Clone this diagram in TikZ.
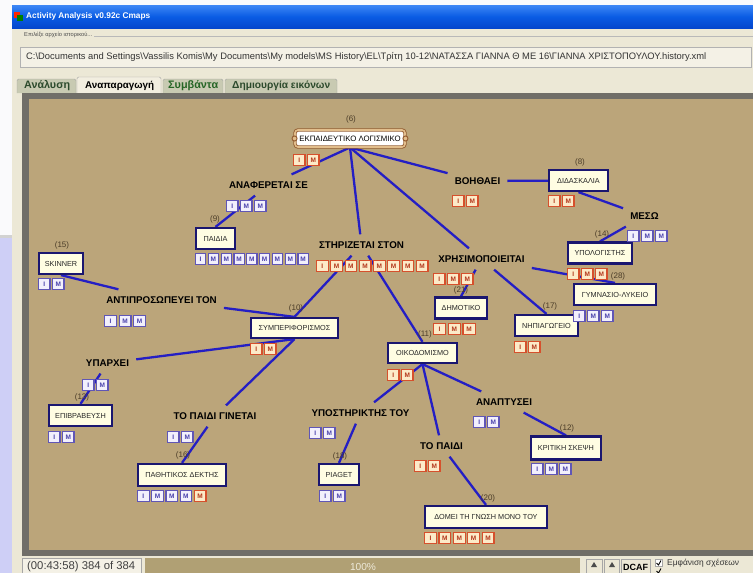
\documentclass[tikz,border=0pt]{standalone}
\usepackage{fontspec}
\setmainfont{Liberation Sans}

\pgfdeclarelayer{back}
\pgfdeclarelayer{wires}
\pgfsetlayers{back,wires,main}

% window chrome
\definecolor{screenbg}{RGB}{250,250,252}
\definecolor{lavender}{RGB}{206,207,246}
\definecolor{chrome}{RGB}{236,232,214}
\definecolor{fieldbg}{RGB}{244,241,230}
\definecolor{tbtop}{RGB}{62,135,245}
\definecolor{tbmid}{RGB}{10,92,228}
\definecolor{tbbot}{RGB}{4,70,205}
\definecolor{tabgrey}{RGB}{200,202,178}
\definecolor{tabsel}{RGB}{242,238,224}
\definecolor{tabtxt}{RGB}{44,74,44}
\definecolor{frame}{RGB}{112,110,104}
\definecolor{progress}{RGB}{176,160,116}
% concept map
\definecolor{canvas}{RGB}{187,165,122}
\definecolor{navy}{RGB}{26,22,112}
\definecolor{cream}{RGB}{255,253,226}
\definecolor{wire}{RGB}{36,30,196}
\definecolor{redb}{RGB}{214,80,44}
\definecolor{redfill}{RGB}{252,234,200}
\definecolor{redtxt}{RGB}{178,54,26}
\definecolor{blueb}{RGB}{96,86,182}
\definecolor{bluefill}{RGB}{242,240,252}
\definecolor{bluetxt}{RGB}{72,64,172}
\definecolor{numtxt}{RGB}{74,60,40}
\definecolor{scrolldark}{RGB}{150,96,52}
\definecolor{scrolllight}{RGB}{226,190,140}

% a row of I/M marks: name, left x, top y, pitch, list of letter/colour
\newcommand{\imrow}[5]{%
  \foreach \L/\C [count=\k from 0] in {#5}{%
    \node[badge\C, minimum width={#4pt-2.6pt}, anchor=north west]
      (#1-\k) at ({#2+\k*#4},#3) {\L};
  }}
\newcommand{\fitw}[2]{\resizebox{#1}{!}{#2}}

\begin{document}
\begin{tikzpicture}[x=1pt,y=-1pt,
  concept/.style={draw=navy, line width=2.2pt, fill=cream, inner sep=1pt,
    text=black!85, font=\fontsize{7.3}{8}\selectfont},
  linkph/.style={font=\bfseries\fontsize{9.8}{10}\selectfont,
    inner xsep=7pt, inner ysep=7pt, text=black},
  numlab/.style={font=\fontsize{8}{9}\selectfont, text=numtxt, inner sep=0pt},
  badger/.style={draw=redb, fill=redfill, text=redtxt, line width=1.1pt,
    minimum height=11pt, inner sep=0pt, font=\bfseries\fontsize{6.5}{7}\selectfont},
  badgeb/.style={draw=blueb, fill=bluefill, text=bluetxt, line width=1.1pt,
    minimum height=11pt, inner sep=0pt, font=\bfseries\fontsize{6.5}{7}\selectfont},
  wirestyle/.style={draw=wire, line width=2.3pt},
  tabbox/.style={draw=gray!70, fill=tabgrey, rounded corners=1.5pt},
  chrometext/.style={inner sep=0pt, anchor=west}
]
\useasboundingbox (0,0) rectangle (753,573);

% ---------------- window ----------------
\begin{pgfonlayer}{back}
  \fill[screenbg] (0,0) rectangle (753,573);
  \fill[lavender] (0,238) rectangle (14,573);
  \fill[gray!35] (0,235) rectangle (14,238);
  \fill[chrome] (12,5) rectangle (753,573);
  \shade[top color=tbtop, bottom color=tbbot, middle color=tbmid] (12,5) rectangle (753,28);
  % file chooser
  \draw[gray!55] (94,36) -- (753,36);
  \draw[gray!60, fill=fieldbg] (20,47) rectangle (751,67);
  % tabs
  \draw[tabbox] (17,93) -- (17,79) -- (76,79) -- (76,93);
  \draw[tabbox, fill=tabsel] (77,93) -- (77,77) -- (161,77) -- (161,93);
  \draw[tabbox] (163,93) -- (163,79) -- (223,79) -- (223,93);
  \draw[tabbox] (225,93) -- (225,79) -- (337,79) -- (337,93);
  % drawing area
  \fill[frame] (22,93) rectangle (753,556);
  \fill[canvas] (29,99) rectangle (753,550);
  % status bar
  \draw[gray!70, fill=fieldbg] (22,558) rectangle (141,575);
  \fill[progress] (145,558) rectangle (580,575);
  \draw[gray!70, fill=chrome] (586,559) rectangle (602,575);
  \draw[gray!70, fill=chrome] (604,559) rectangle (619,575);
  \draw[gray!70, fill=chrome] (621,559) rectangle (650,575);
  \fill[black!70] (591,567) -- (597,567) -- (594,562) -- cycle;
  \fill[black!70] (609,567) -- (615,567) -- (612,562) -- cycle;
  \draw[gray!70, fill=white] (655,559.5) rectangle (662,566.5);
  \draw[black, line width=0.9pt] (656.5,563) -- (658.5,565) -- (661,560.5);
  \draw[black, line width=0.9pt] (656.5,571) -- (658.5,573) -- (661,568.5);
\end{pgfonlayer}

% window texts
\fill[red!70!orange] (14,12) rectangle (20,18);
\fill[green!50!black] (17,15) rectangle (23,21);
\node[chrometext, text=white, font=\bfseries] (title) at (26,16.5)
  {\fitw{124pt}{Activity Analysis v0.92c Cmaps}};
\node[chrometext, text=black!70] (pick) at (24,35)
  {\fitw{68pt}{Επιλέξε αρχείο ιστορικού...}};
\node[chrometext, text=black!80] (path) at (26,57)
  {\fitw{680pt}{C:\textbackslash Documents and Settings\textbackslash Vassilis Komis\textbackslash My Documents\textbackslash My models\textbackslash MS History\textbackslash EL\textbackslash Τρίτη 10-12\textbackslash ΝΑΤΑΣΣΑ ΓΙΑΝΝΑ Θ ΜΕ 16\textbackslash ΓΙΑΝΝΑ ΧΡΙΣΤΟΠΟΥΛΟΥ.history.xml}};
\node[chrometext, text=tabtxt] (tab1) at (24,86) {\fitw{46pt}{\bfseries Ανάλυση}};
\node[chrometext, text=black] (tab2) at (85,86) {\fitw{69pt}{\bfseries Αναπαραγωγή}};
\node[chrometext, text=tabtxt!85!green] (tab3) at (168,86) {\fitw{50pt}{\bfseries Συμβάντα}};
\node[chrometext, text=tabtxt] (tab4) at (232,86) {\fitw{98pt}{\bfseries Δημιουργία εικόνων}};
\node[chrometext, text=black!75] (clock) at (27,567) {\fitw{108pt}{(00:43:58) 384 of 384}};
\node[text=chrome!90, inner sep=0pt] (pct) at (363,567) {\fitw{26pt}{100\%}};
\node[text=black, inner sep=0pt] (dcaf) at (635.5,567) {\fitw{25pt}{\bfseries DCAF}};
\node[chrometext, text=black!80] (showrel) at (667,563) {\fitw{72pt}{Εμφάνιση σχέσεων}};

% ---------------- concepts ----------------
\node[draw=scrolldark, double=scrolllight, double distance=1.6pt, line width=0.9pt,
  fill=white, rounded corners=3pt, minimum width=110pt, minimum height=17pt,
  inner sep=1pt, font=\fontsize{7.8}{8}\selectfont] (soft) at (350,138.5)
  {ΕΚΠΑΙΔΕΥΤΙΚΟ ΛΟΓΙΣΜΙΚΟ};
\draw[scrolldark, line width=1pt, fill=scrolllight] (soft.west) circle (2.5pt);
\draw[scrolldark, line width=1pt, fill=scrolllight] (soft.east) circle (2.5pt);

\node[concept, minimum width=59pt, minimum height=21pt] (didask) at (578.5,180.5) {ΔΙΔΑΣΚΑΛΙΑ};
\node[concept, minimum width=39pt, minimum height=21pt] (paidia) at (215.5,238.5) {ΠΑΙΔΙΑ};
\node[concept, minimum width=44pt, minimum height=21pt] (skinner) at (61,263.5) {SKINNER};
\node[concept, minimum width=87pt, minimum height=20pt] (symper) at (294.5,328) {ΣΥΜΠΕΡΙΦΟΡΙΣΜΟΣ};
\node[concept, minimum width=69pt, minimum height=20pt] (oikod) at (422.5,353) {ΟΙΚΟΔΟΜΙΣΜΟ};
\node[concept, minimum width=52pt, minimum height=21pt] (dimot) at (461,308) {ΔΗΜΟΤΙΚΟ};
\node[concept, minimum width=64pt, minimum height=21pt] (ypol) at (600,253) {ΥΠΟΛΟΓΙΣΤΗΣ};
\node[concept, minimum width=82pt, minimum height=21pt] (gymn) at (615,294.5) {ΓΥΜΝΑΣΙΟ-ΛΥΚΕΙΟ};
\node[concept, minimum width=63pt, minimum height=21pt] (nipi) at (546.5,325.5) {ΝΗΠΙΑΓΩΓΕΙΟ};
\node[concept, minimum width=63pt, minimum height=21pt] (epibr) at (80.5,415.5) {ΕΠΙΒΡΑΒΕΥΣΗ};
\node[concept, minimum width=88pt, minimum height=22pt] (pathit) at (182,475) {ΠΑΘΗΤΙΚΟΣ ΔΕΚΤΗΣ};
\node[concept, minimum width=40pt, minimum height=21pt] (piaget) at (339,474.5) {PIAGET};
\node[concept, minimum width=70pt, minimum height=23pt] (kritiki) at (566,448) {ΚΡΙΤΙΚΗ ΣΚΕΨΗ};
\node[concept, minimum width=122pt, minimum height=22pt] (domei) at (486,517) {ΔΟΜΕΙ ΤΗ ΓΝΩΣΗ ΜΟΝΟ ΤΟΥ};

% concept numbers
\node[numlab] (soft-n) at (351,119) {(6)};
\node[numlab] (didask-n) at (580,162) {(8)};
\node[numlab] (paidia-n) at (215,219) {(9)};
\node[numlab] (skinner-n) at (62,245) {(15)};
\node[numlab] (symper-n) at (296,308) {(10)};
\node[numlab] (oikod-n) at (425,334) {(11)};
\node[numlab] (dimot-n) at (461,290) {(21)};
\node[numlab] (ypol-n) at (602,234) {(14)};
\node[numlab] (gymn-n) at (618,276) {(28)};
\node[numlab] (nipi-n) at (550,306) {(17)};
\node[numlab] (epibr-n) at (82,397) {(13)};
\node[numlab] (pathit-n) at (183,455) {(16)};
\node[numlab] (piaget-n) at (340,456) {(18)};
\node[numlab] (kritiki-n) at (567,428) {(12)};
\node[numlab] (domei-n) at (488,498) {(20)};

% ---------------- linking phrases ----------------
\node[linkph] (lAnaf) at (268.5,185) {ΑΝΑΦΕΡΕΤΑΙ ΣΕ};
\node[linkph] (lBoh) at (477.5,181) {ΒΟΗΘΑΕΙ};
\node[linkph] (lSthr) at (361.5,245) {ΣΤΗΡΙΖΕΤΑΙ ΣΤΟΝ};
\node[linkph] (lXris) at (481.5,259) {ΧΡΗΣΙΜΟΠΟΙΕΙΤΑΙ};
\node[linkph] (lMeso) at (644.5,216) {ΜΕΣΩ};
\node[linkph] (lAnti) at (161.5,300) {ΑΝΤΙΠΡΟΣΩΠΕΥΕΙ ΤΟΝ};
\node[linkph] (lYpar) at (107.5,363) {ΥΠΑΡΧΕΙ};
\node[linkph] (lGin) at (215,416) {ΤΟ ΠΑΙΔΙ ΓΙΝΕΤΑΙ};
\node[linkph] (lYpost) at (360.5,413) {ΥΠΟΣΤΗΡΙΚΤΗΣ ΤΟΥ};
\node[linkph] (lAnapt) at (504,402) {ΑΝΑΠΤΥΣΕΙ};
\node[linkph] (lPaidi) at (441.5,446) {ΤΟ ΠΑΙΔΙ};

% ---------------- I/M marks ----------------
\imrow{soft-m}{293}{154}{14}{I/r,M/r}
\imrow{didask-m}{548}{195}{14}{I/r,M/r}
\imrow{lBoh-m}{452}{195}{14}{I/r,M/r}
\imrow{lAnaf-m}{226}{200}{14}{I/b,M/b,M/b}
\imrow{paidia-m}{195}{253}{12.8}{I/b,M/b,M/b,M/b,M/b,M/b,M/b,M/b,M/b}
\imrow{skinner-m}{38}{278}{14}{I/b,M/b}
\imrow{lSthr-m}{316}{260}{14.25}{I/r,M/r,M/r,M/r,M/r,M/r,M/r,M/r}
\imrow{lXris-m}{433}{273}{14}{I/r,M/r,M/r}
\imrow{lMeso-m}{627}{230}{14}{I/b,M/b,M/b}
\imrow{ypol-m}{567}{268}{14}{I/r,M/r,M/r}
\imrow{gymn-m}{573}{310}{14}{I/b,M/b,M/b}
\imrow{dimot-m}{433}{323}{14.7}{I/r,M/r,M/r}
\imrow{nipi-m}{514}{341}{14}{I/r,M/r}
\imrow{lAnti-m}{104}{315}{14.5}{I/b,M/b,M/b}
\imrow{symper-m}{250}{343}{14}{I/r,M/r}
\imrow{oikod-m}{387}{369}{14}{I/r,M/r}
\imrow{lYpar-m}{82}{379}{14}{I/b,M/b}
\imrow{epibr-m}{48}{431}{14}{I/b,M/b}
\imrow{lGin-m}{167}{431}{14}{I/b,M/b}
\imrow{pathit-m}{137}{490}{14.2}{I/b,M/b,M/b,M/b,M/r}
\imrow{lYpost-m}{309}{427}{14}{I/b,M/b}
\imrow{piaget-m}{319}{490}{14}{I/b,M/b}
\imrow{lAnapt-m}{473}{416}{14}{I/b,M/b}
\imrow{kritiki-m}{531}{463}{14}{I/b,M/b,M/b}
\imrow{lPaidi-m}{414}{460}{14}{I/r,M/r}
\imrow{domei-m}{424}{532}{14.4}{I/r,M/r,M/r,M/r,M/r}

% ---------------- connectors ----------------
\begin{pgfonlayer}{wires}
  \draw[wirestyle] (soft.south) -- (lAnaf);
  \draw[wirestyle] (soft.south) -- (lSthr);
  \draw[wirestyle] (soft.south) -- (lXris);
  \draw[wirestyle] (soft.south) -- (lBoh);
  \draw[wirestyle] (lAnaf) -- (paidia.north);
  \draw[wirestyle] (lBoh) -- (didask);
  \draw[wirestyle] (didask.south) -- (lMeso);
  \draw[wirestyle] (lMeso) -- (ypol.north);
  \draw[wirestyle] (lXris) -- (gymn.north);
  \draw[wirestyle] (lXris) -- (nipi.north);
  \draw[wirestyle] (lXris) -- (dimot.north);
  \draw[wirestyle] (lSthr) -- (symper.north);
  \draw[wirestyle] (lSthr) -- (oikod.north);
  \draw[wirestyle] (lAnti) -- (skinner.south);
  \draw[wirestyle] (lAnti) -- (symper.north);
  \draw[wirestyle] (symper.south) -- (lYpar);
  \draw[wirestyle] (symper.south) -- (lGin);
  \draw[wirestyle] (lYpar) -- (epibr.north);
  \draw[wirestyle] (lGin) -- (pathit.north);
  \draw[wirestyle] (oikod.south) -- (lYpost);
  \draw[wirestyle] (oikod.south) -- (lPaidi);
  \draw[wirestyle] (oikod.south) -- (lAnapt);
  \draw[wirestyle] (lYpost) -- (piaget.north);
  \draw[wirestyle] (lAnapt) -- (kritiki.north);
  \draw[wirestyle] (lPaidi) -- (domei.north);
\end{pgfonlayer}
\end{tikzpicture}
\end{document}
